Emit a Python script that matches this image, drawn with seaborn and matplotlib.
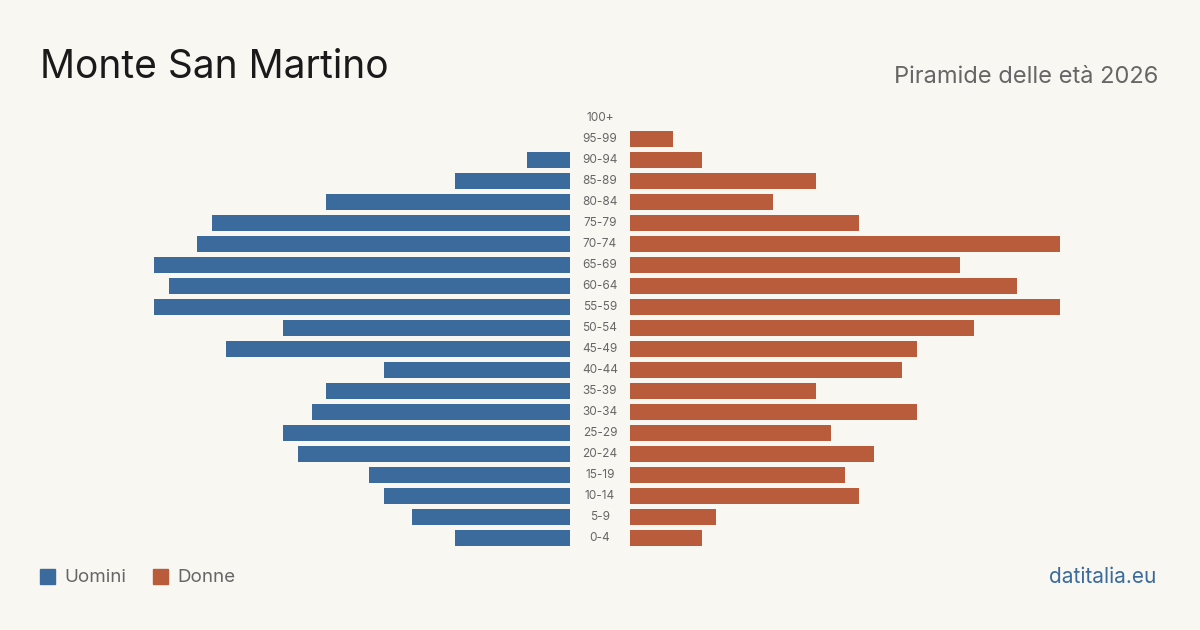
import matplotlib.pyplot as plt
import seaborn as sns
import pandas as pd

# Age groups, top to bottom
age_groups = ["100+", "95-99", "90-94", "85-89", "80-84", "75-79", "70-74",
              "65-69", "60-64", "55-59", "50-54", "45-49", "40-44", "35-39",
              "30-34", "25-29", "20-24", "15-19", "10-14", "5-9", "0-4"]
men = [0, 0, 3, 8, 17, 25, 26, 29, 28, 29, 20, 24, 13, 17, 18, 20, 19, 14, 13, 11, 8]
women = [0, 3, 5, 13, 10, 16, 30, 23, 27, 30, 24, 20, 19, 13, 20, 14, 17, 15, 16, 6, 5]

bg = "#f9f7f2"
blue = "#3a6b9c"
orange = "#b85c3c"

sns.set_theme(style="white")
plt.rcParams["font.family"] = ["Inter", "DejaVu Sans"]

df = pd.DataFrame({"age": age_groups, "Uomini": men, "Donne": women})

fig = plt.figure(figsize=(12, 6.3), dpi=100, facecolor=bg)
bottom, top = 0.1294, 0.8294
ax_l = fig.add_axes([140 / 1200, bottom, 430 / 1200, top - bottom])
ax_r = fig.add_axes([630 / 1200, bottom, 430 / 1200, top - bottom])

sns.barplot(data=df, x="Uomini", y="age", color=blue, ax=ax_l, width=0.8,
            saturation=1, orient="h", linewidth=0)
sns.barplot(data=df, x="Donne", y="age", color=orange, ax=ax_r, width=0.8,
            saturation=1, orient="h", linewidth=0)

for ax in (ax_l, ax_r):
    ax.set_xlim(0, 30)
    ax.set_ylim(len(age_groups) - 0.5, -0.5)
    ax.set_facecolor(bg)
    ax.set_xlabel("")
    ax.set_ylabel("")
    ax.set_xticks([])
    ax.set_yticks([])
    sns.despine(ax=ax, left=True, bottom=True)
ax_l.invert_xaxis()

# Age labels in the middle gap
for i, lab in enumerate(age_groups):
    ax_r.text(-2.1, i, lab, ha="center", va="center", fontsize=8.5, color="#666666", clip_on=False)

fig.text(40 / 1200, 1 - 67 / 630, "Monte San Martino", fontsize=28, color="#1a1a1a", va="center", ha="left")
fig.text(1158 / 1200, 1 - 77 / 630, "Piramide delle età 2026", fontsize=17, color="#666666", va="center", ha="right")

# Legend
fig.patches.append(plt.Rectangle((40 / 1200, 1 - 584 / 630), 15 / 1200, 15 / 630, transform=fig.transFigure, color=blue))
fig.text(64 / 1200, 1 - 577 / 630, "Uomini", fontsize=13.5, color="#666666", va="center", ha="left")
fig.patches.append(plt.Rectangle((153 / 1200, 1 - 584 / 630), 15 / 1200, 15 / 630, transform=fig.transFigure, color=orange))
fig.text(177 / 1200, 1 - 577 / 630, "Donne", fontsize=13.5, color="#666666", va="center", ha="left")

fig.text(1156 / 1200, 1 - 577 / 630, "datitalia.eu", fontsize=15, color=blue, va="center", ha="right")

fig.savefig("out.png", dpi=100, facecolor=bg)
